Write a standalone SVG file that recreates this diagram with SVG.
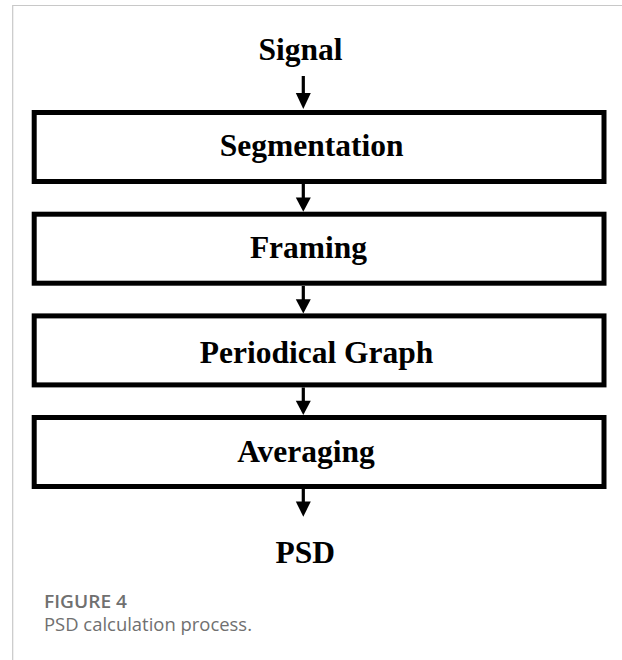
<svg xmlns="http://www.w3.org/2000/svg" width="622" height="660" viewBox="0 0 622 660">
  <defs>
    <style>
      .frame { fill: none; stroke: #c8c8c8; stroke-width: 1.2; }
      .box { fill: #ffffff; stroke: #000000; stroke-width: 5; }
      .label { font-family: "Liberation Serif", "Times New Roman", serif; font-weight: bold; font-size: 31.5px; fill: #000000; text-anchor: middle; }
      .shaft { stroke: #000000; stroke-width: 3.2; fill: none; }
      .head { fill: #000000; }
      .cap-title { font-family: "Open Sans", "Noto Sans", sans-serif; font-weight: 600; font-size: 17.5px; fill: #707070; }
      .cap-text { font-family: "Open Sans", "Noto Sans", sans-serif; font-size: 17.5px; fill: #707070; }
    </style>
  </defs>

  <rect width="622" height="660" fill="#ffffff"/>
  <!-- page frame lines -->
  <path class="frame" d="M12.7,660 V5.5 H622"/>

  <!-- connectors -->
  <g id="connectors">
    <line class="shaft" x1="303.3" y1="76" x2="303.3" y2="96"/>
    <polygon class="head" points="295.8,93 310.8,93 303.3,109"/>

    <line class="shaft" x1="303.3" y1="184" x2="303.3" y2="200"/>
    <polygon class="head" points="295.8,197.5 310.8,197.5 303.3,211.7"/>

    <line class="shaft" x1="303.3" y1="286" x2="303.3" y2="302"/>
    <polygon class="head" points="295.8,299.2 310.8,299.2 303.3,313.4"/>

    <line class="shaft" x1="303.3" y1="387.5" x2="303.3" y2="404"/>
    <polygon class="head" points="295.8,400.8 310.8,400.8 303.3,415"/>

    <line class="shaft" x1="303.3" y1="489" x2="303.3" y2="505"/>
    <polygon class="head" points="295.8,501.5 310.8,501.5 303.3,516.7"/>
  </g>

  <g id="signal">
    <text class="label" x="300.5" y="59.5">Signal</text>
  </g>

  <g id="segmentation">
    <rect class="box" x="34.2" y="112.5" width="569.8" height="69"/>
    <text class="label" x="311.7" y="156">Segmentation</text>
  </g>

  <g id="framing">
    <rect class="box" x="34.2" y="214.2" width="569.8" height="69"/>
    <text class="label" x="308.5" y="258">Framing</text>
  </g>

  <g id="periodical-graph">
    <rect class="box" x="34.2" y="315.9" width="569.8" height="69"/>
    <text class="label" x="316.5" y="362.5">Periodical Graph</text>
  </g>

  <g id="averaging">
    <rect class="box" x="34.2" y="417.5" width="569.8" height="69"/>
    <text class="label" x="306" y="462">Averaging</text>
  </g>

  <g id="psd">
    <text class="label" x="305.2" y="563.3">PSD</text>
  </g>

  <!-- caption -->
  <text class="cap-title" x="44" y="608" textLength="83" lengthAdjust="spacingAndGlyphs">FIGURE 4</text>
  <text class="cap-text" x="44" y="631" textLength="208" lengthAdjust="spacingAndGlyphs">PSD calculation process.</text>
</svg>
